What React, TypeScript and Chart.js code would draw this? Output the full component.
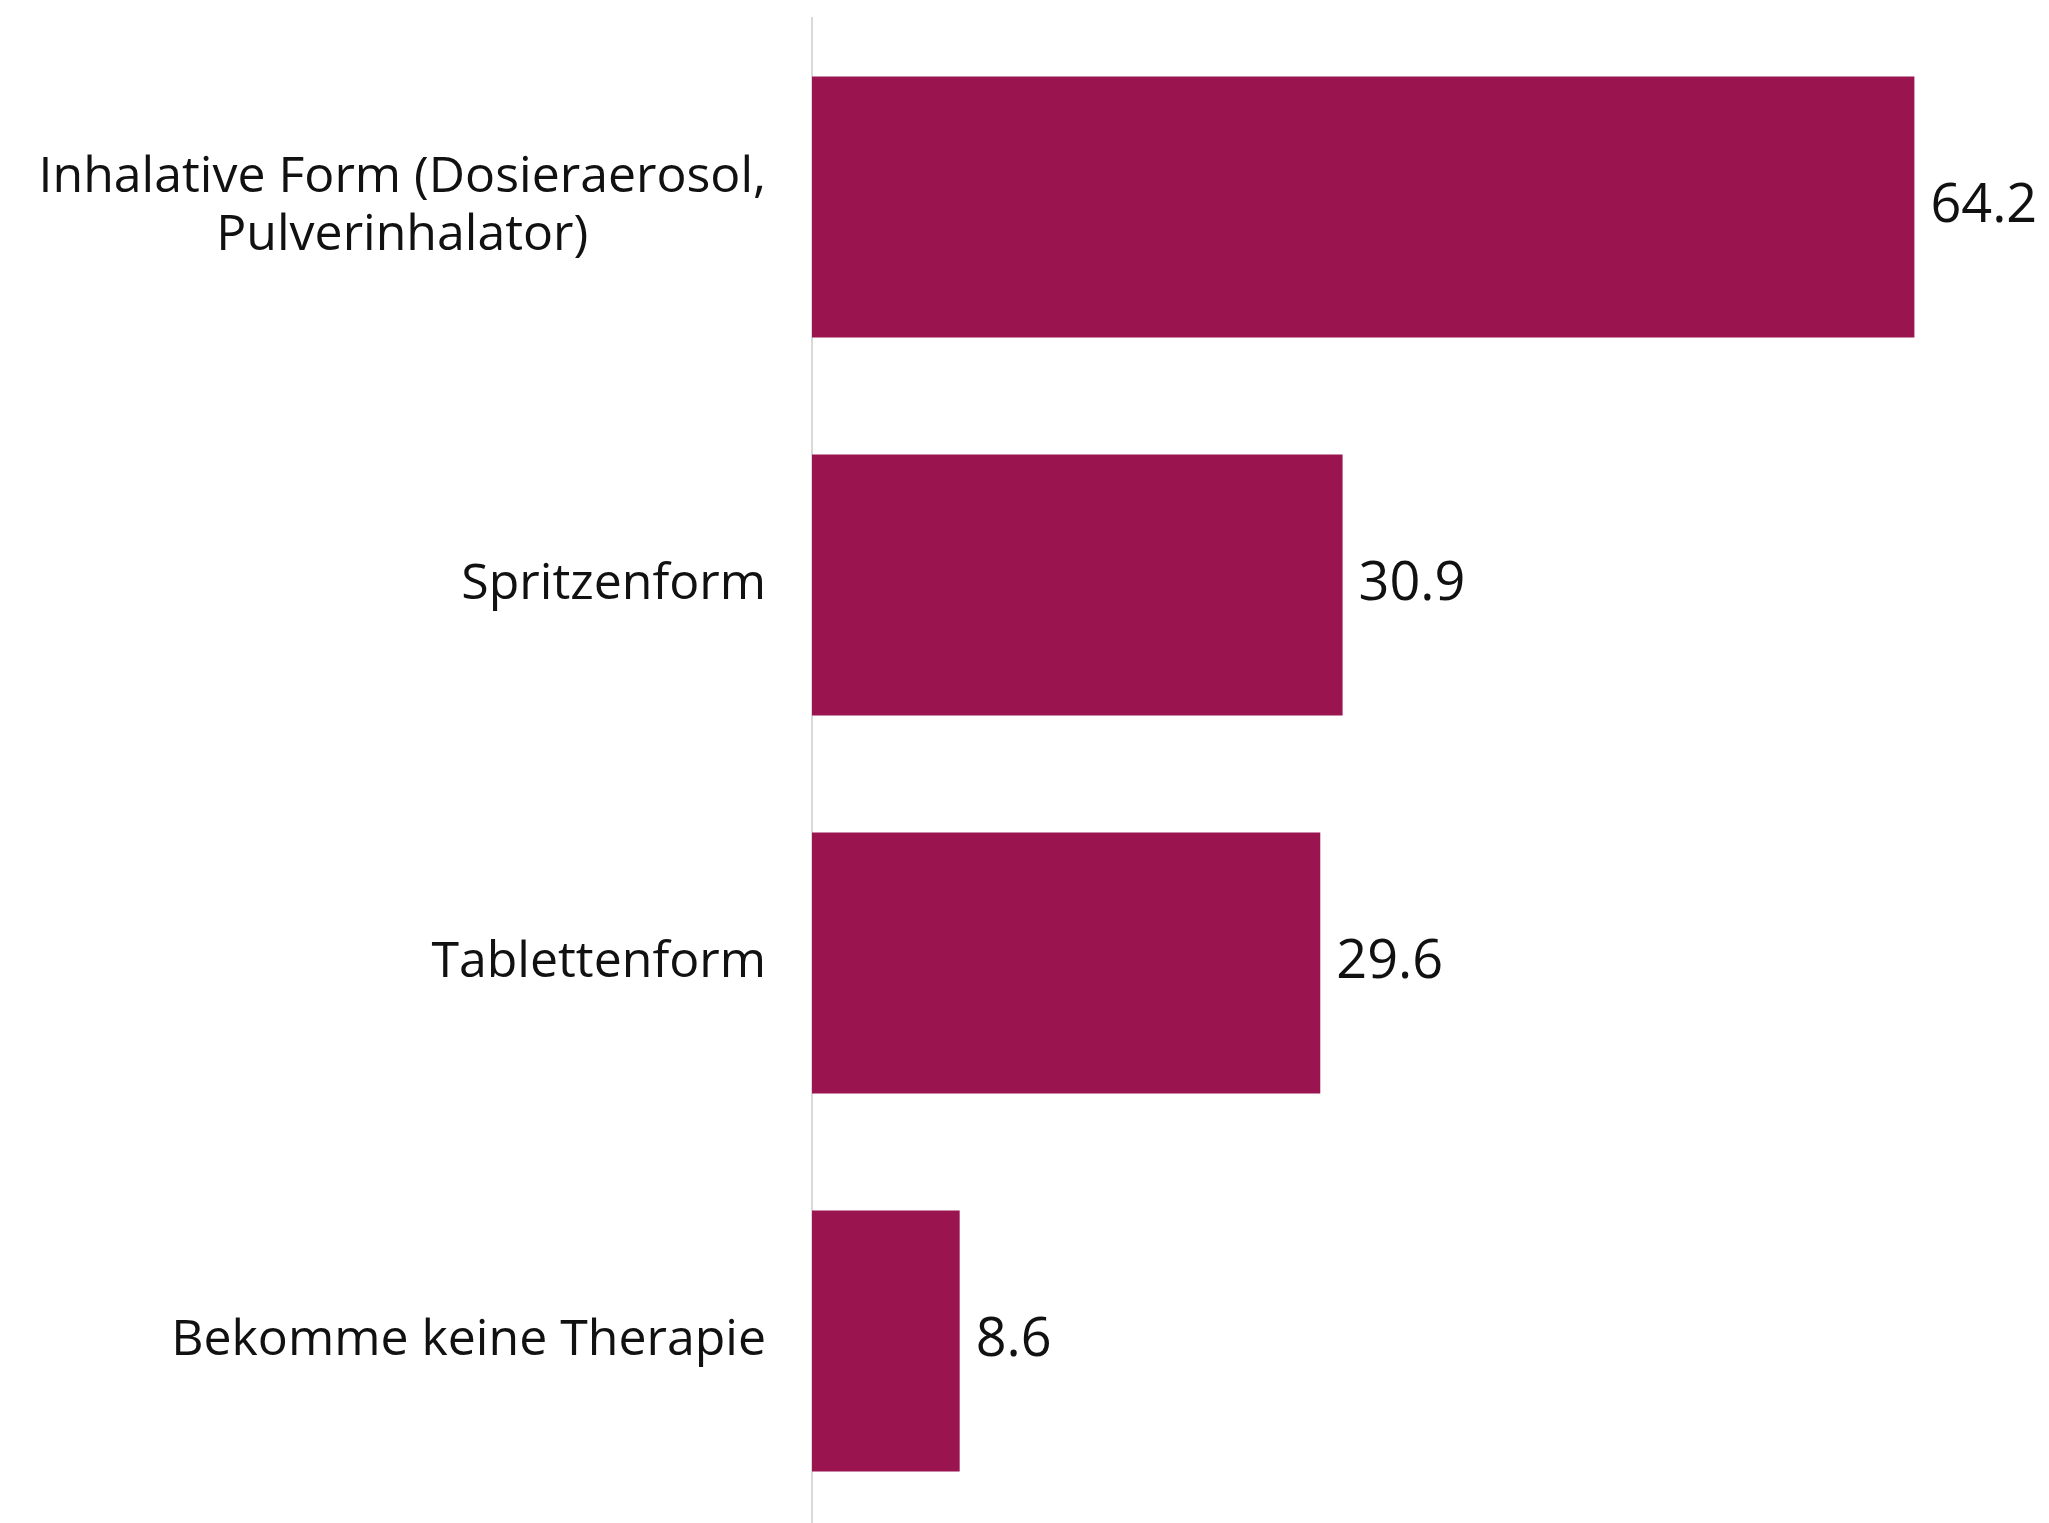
import React, { useEffect, useRef } from "react";
import { Chart, registerables } from "chart.js";

Chart.register(...registerables);

// ---- data ----
const categoryLines: string[][] = [
  ["Inhalative Form (Dosieraerosol,", "Pulverinhalator)"],
  ["Spritzenform"],
  ["Tablettenform"],
  ["Bekomme keine Therapie"],
];
const categories: string[] = categoryLines.map((l) => l.join(" "));
const values: number[] = [64.2, 30.9, 29.6, 8.6];
const valueLabels: string[] = ["64.2", "30.9", "29.6", "8.6"];

// ---- style ----
const BAR_COLOR = "#9A1550";
const AXIS_COLOR = "#D9D9D9";
const TEXT_COLOR = "#111111";
const FONT_FAMILY = '"Open Sans", "Noto Sans", sans-serif';
const CAT_SIZE = 50;
const VAL_SIZE = 54;
const LINE_H = 58;
const LABEL_GAP = 46;
const VALUE_GAP = 16;

const labelPlugin = {
  id: "customLabels",
  afterDatasetsDraw(chart: any) {
    const ctx = chart.ctx as CanvasRenderingContext2D;
    const yScale = chart.scales.y;
    const meta = chart.getDatasetMeta(0);
    ctx.save();
    ctx.fillStyle = TEXT_COLOR;
    ctx.textBaseline = "middle";
    ctx.font = `${CAT_SIZE}px ${FONT_FAMILY}`;
    ctx.textAlign = "center";
    categoryLines.forEach((lines, i) => {
      const cy = yScale.getPixelForValue(i);
      const maxW = Math.max(...lines.map((l) => ctx.measureText(l).width));
      const cx = chart.chartArea.left - LABEL_GAP - maxW / 2;
      lines.forEach((l, j) => {
        ctx.fillText(l, cx, cy + (j - (lines.length - 1) / 2) * LINE_H);
      });
    });
    ctx.font = `${VAL_SIZE}px ${FONT_FAMILY}`;
    ctx.textAlign = "left";
    meta.data.forEach((bar: any, i: number) => {
      ctx.fillText(valueLabels[i], bar.x + VALUE_GAP, bar.y);
    });
    ctx.restore();
  },
};

export default function App() {
  const canvasRef = useRef<HTMLCanvasElement | null>(null);

  useEffect(() => {
    if (!canvasRef.current) return;
    const chart = new Chart(canvasRef.current, {
      type: "bar",
      data: {
        labels: categories,
        datasets: [
          {
            data: values,
            backgroundColor: BAR_COLOR,
            borderWidth: 0,
            barPercentage: 0.69,
            categoryPercentage: 1,
          },
        ],
      },
      options: {
        indexAxis: "y",
        responsive: false,
        animation: false,
        devicePixelRatio: 1,
        layout: { padding: { top: 18, bottom: 2, left: 0, right: 35 } },
        plugins: {
          legend: { display: false },
          tooltip: { enabled: false },
        },
        scales: {
          x: {
            display: false,
            min: 0,
            max: 70,
          },
          y: {
            display: true,
            grid: { display: false, drawTicks: false },
            border: { display: true, color: AXIS_COLOR, width: 2 },
            ticks: { display: false },
            afterFit: (scale: any) => {
              scale.width = 812;
            },
          },
        },
      },
      plugins: [labelPlugin],
    });
    return () => chart.destroy();
  }, []);

  return (
    <div
      style={{
        position: "fixed",
        left: 0,
        top: 0,
        width: 2049,
        height: 1523,
        overflow: "hidden",
        background: "#ffffff",
      }}
    >
      <canvas ref={canvasRef} width={2049} height={1532} style={{ display: "block" }} />
    </div>
  );
}
